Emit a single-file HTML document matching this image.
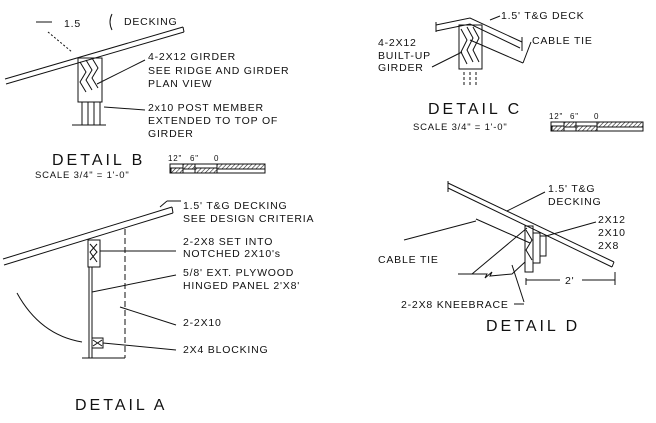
<!DOCTYPE html>
<html><head><meta charset="utf-8"><style>
html,body{margin:0;padding:0;background:#fff;width:656px;height:423px;overflow:hidden}
text{font-family:"Liberation Sans",sans-serif;font-size:10.5px;fill:#111;letter-spacing:0.8px}
.big{font-size:16px;letter-spacing:3px;font-weight:normal}
line,path,polyline,rect{stroke:#111;fill:none;stroke-width:1}
.h{fill:url(#hatch)!important}
</style></head><body>
<svg width="656" height="423" viewBox="0 0 656 423">
<defs><pattern id="hatch" width="3" height="3" patternUnits="userSpaceOnUse" patternTransform="rotate(45)"><line x1="0" y1="0" x2="0" y2="3" style="stroke:#222;stroke-width:1.2"/></pattern></defs>
<!-- DETAIL B -->
<g>
<line x1="5" y1="79" x2="183" y2="27"/><line x1="6" y1="84" x2="184" y2="32"/>
<line x1="183" y1="27" x2="184" y2="32"/>
<rect x="78" y="58" width="24" height="44"/>
<path d="M80 62 L86 72 L80 82 L86 92 M86 60 L92 70 L86 80 L92 90 M92 58 L98 68 L92 78 L98 88"/>
<line x1="82" y1="102" x2="82" y2="125"/><line x1="88" y1="102" x2="88" y2="125"/><line x1="94" y1="102" x2="94" y2="125"/><line x1="100" y1="102" x2="100" y2="125"/>
<line x1="72" y1="125" x2="106" y2="125"/>
<line x1="36" y1="22" x2="52" y2="22"/>
<line x1="48" y1="32" x2="72" y2="52" stroke-dasharray="2,2"/>
<path d="M112 14 Q108 22 112 30"/>
<line x1="97" y1="84" x2="145" y2="60"/>
<line x1="104" y1="107" x2="145" y2="110"/>
<text x="64" y="27">1.5</text><text x="124" y="25">DECKING</text>
<text x="148" y="60">4-2X12 GIRDER</text>
<text x="148" y="74">SEE RIDGE AND GIRDER</text>
<text x="148" y="87">PLAN VIEW</text>
<text x="148" y="111">2x10 POST MEMBER</text>
<text x="148" y="124">EXTENDED TO TOP OF</text>
<text x="148" y="137">GIRDER</text>
<text class="big" x="52" y="165">DETAIL B</text>
<text x="35" y="178" style="font-size:9.5px">SCALE 3/4" = 1'-0"</text>
<g>
<rect x="170" y="164" width="95" height="9"/>
<rect class="h" x="171" y="168" width="12" height="5"/><rect class="h" x="183" y="164" width="12" height="5"/>
<rect class="h" x="195" y="168" width="22" height="5"/><rect class="h" x="217" y="164" width="48" height="5"/>
<text x="168" y="161" style="font-size:8px">12"</text><text x="190" y="161" style="font-size:8px">6"</text><text x="214" y="161" style="font-size:8px">0</text>
</g></g>
<!-- DETAIL A -->
<g>
<line x1="3" y1="259" x2="172" y2="207"/><line x1="4" y1="265" x2="173" y2="213"/><line x1="172" y1="207" x2="173" y2="213"/>
<line x1="160" y1="207" x2="167" y2="201"/><line x1="167" y1="201" x2="181" y2="201"/>
<rect x="88" y="240" width="12" height="27"/>
<path d="M90 244 L97 252 L90 260 M97 244 L90 252 L97 262"/>
<line x1="89" y1="267" x2="89" y2="358"/><line x1="92" y1="267" x2="92" y2="358"/>
<line x1="125" y1="229" x2="125" y2="358" stroke-dasharray="6,3"/>
<line x1="100" y1="251" x2="176" y2="251"/>
<line x1="92" y1="292" x2="176" y2="275"/>
<line x1="120" y1="307" x2="176" y2="325"/>
<rect x="92" y="338" width="11" height="10"/><path d="M93 340 L102 346 M93 346 L102 340"/>
<line x1="103" y1="343" x2="176" y2="350"/>
<path d="M17 293 Q40 335 82 342"/>
<line x1="82" y1="358" x2="125" y2="358"/>
<text x="183" y="209">1.5' T&amp;G DECKING</text>
<text x="183" y="222">SEE DESIGN CRITERIA</text>
<text x="183" y="245">2-2X8 SET INTO</text>
<text x="183" y="257">NOTCHED 2X10's</text>
<text x="183" y="276">5/8' EXT. PLYWOOD</text>
<text x="183" y="289">HINGED PANEL 2'X8'</text>
<text x="183" y="326">2-2X10</text>
<text x="183" y="353">2X4 BLOCKING</text>
<text class="big" x="75" y="410">DETAIL A</text>
</g>
<!-- DETAIL C -->
<g>
<polyline points="436,25 470,18 522,42"/><polyline points="436,31 470,24 520,48"/>
<line x1="436" y1="22" x2="436" y2="32"/>
<line x1="470" y1="40" x2="523" y2="63"/>
<line x1="522" y1="37" x2="522" y2="51"/>
<rect x="459" y="25" width="23" height="44"/>
<path d="M461 29 L467 40 L461 52 L467 64 M467 27 L473 38 L467 50 L473 62 M473 27 L479 38 L473 50 L479 62"/>
<line x1="464" y1="72" x2="464" y2="85" stroke-dasharray="3,2"/><line x1="470" y1="72" x2="470" y2="85" stroke-dasharray="3,2"/><line x1="476" y1="72" x2="476" y2="85" stroke-dasharray="3,2"/>
<line x1="490" y1="20" x2="500" y2="16"/>
<line x1="523" y1="63" x2="531" y2="42"/>
<line x1="432" y1="67" x2="462" y2="52"/>
<text x="501" y="19">1.5' T&amp;G DECK</text>
<text x="532" y="44">CABLE TIE</text>
<text x="378" y="46">4-2X12</text>
<text x="378" y="59">BUILT-UP</text>
<text x="378" y="71">GIRDER</text>
<text class="big" x="428" y="114">DETAIL C</text>
<text x="413" y="130" style="font-size:9.5px">SCALE 3/4" = 1'-0"</text>
<g>
<rect x="551" y="122" width="92" height="9"/>
<rect class="h" x="552" y="126" width="12" height="5"/><rect class="h" x="564" y="122" width="12" height="5"/>
<rect class="h" x="576" y="126" width="21" height="5"/><rect class="h" x="597" y="122" width="46" height="5"/>
<text x="549" y="119" style="font-size:8px">12"</text><text x="570" y="119" style="font-size:8px">6"</text><text x="594" y="119" style="font-size:8px">0</text>
</g></g>
<!-- DETAIL D -->
<g>
<line x1="448" y1="183" x2="614" y2="262"/><line x1="448" y1="188" x2="612" y2="267"/>
<line x1="448" y1="181" x2="448" y2="192"/><line x1="614" y1="262" x2="612" y2="267"/>
<line x1="476" y1="219" x2="530" y2="243"/>
<line x1="404" y1="240" x2="476" y2="221"/>
<rect x="525" y="226" width="8" height="46"/><rect x="533" y="233" width="7" height="30"/><rect x="540" y="236" width="6" height="20"/>
<path d="M526 230 L532 240 L526 250 L532 260"/>
<line x1="507" y1="211" x2="545" y2="192"/>
<line x1="546" y1="236" x2="596" y2="222"/>
<line x1="472" y1="274" x2="527" y2="228"/>
<polyline points="458,274 487,274 485,278 492,272 490,276 512,274 525,262"/>
<line x1="512" y1="265" x2="524" y2="302"/>
<line x1="526" y1="278" x2="526" y2="285"/><line x1="615" y1="272" x2="615" y2="285"/>
<line x1="526" y1="280" x2="560" y2="280"/><line x1="582" y1="280" x2="615" y2="280"/>
<text x="565" y="284">2'</text>
<text x="548" y="192">1.5' T&amp;G</text>
<text x="548" y="205">DECKING</text>
<text x="598" y="223">2X12</text>
<text x="598" y="236">2X10</text>
<text x="598" y="249">2X8</text>
<text x="378" y="263">CABLE TIE</text>
<text x="401" y="308">2-2X8 KNEEBRACE</text>
<line x1="514" y1="304" x2="524" y2="304"/>
<text class="big" x="486" y="331">DETAIL D</text>
</g>
</svg>
</body></html>
